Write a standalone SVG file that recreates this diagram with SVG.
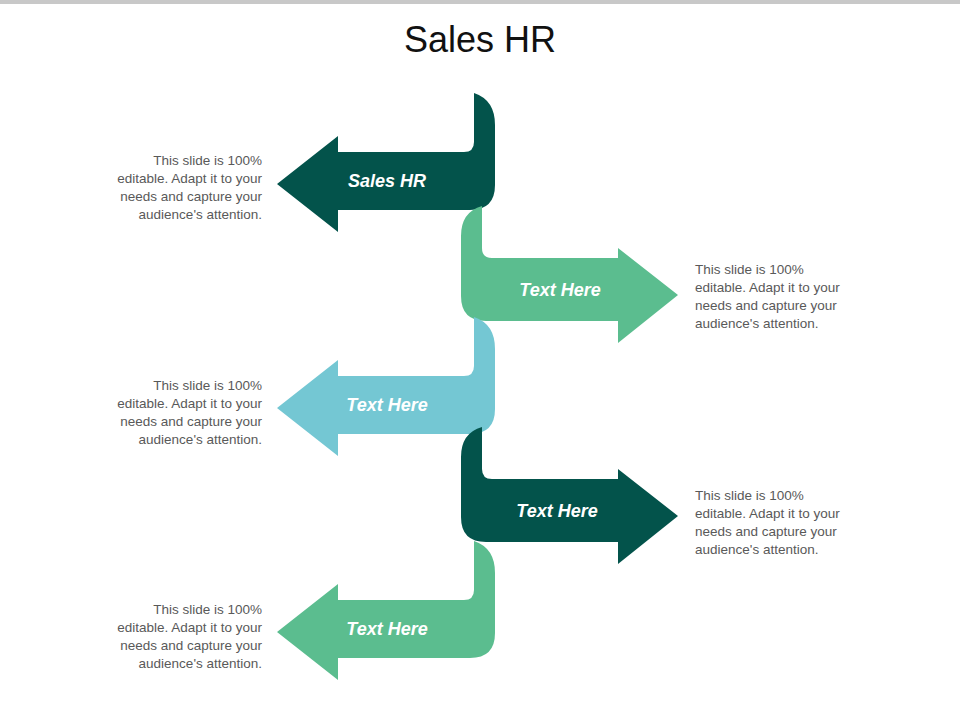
<svg xmlns="http://www.w3.org/2000/svg" width="960" height="720" viewBox="0 0 960 720">
<style>
.lbl{font-family:"Liberation Sans",Arial,sans-serif;font-size:18px;font-weight:bold;font-style:italic;fill:#fff;text-anchor:middle}
.d{font-family:"Liberation Sans",Arial,sans-serif;font-size:13.5px;fill:#595959}
.l{text-anchor:end}
</style>
<defs>
<path id="la" d="M277,184 L338,136 L338,152 L464,152 Q474,152 474,142 L474,93 Q495,100 495,125 L495,185 Q495,210 470,210 L338,210 L338,232 Z"/>
<path id="ra" d="M678,295 L618,343 L618,321 L486,321 Q461,321 461,296 L461,236 Q461,212 482,206 L482,248 Q482,258 492,258 L618,258 L618,248 Z"/>
</defs>
<rect x="0" y="0" width="960" height="4" fill="#C8C8C8"/>
<text x="480" y="52" font-family="Liberation Sans,Arial,sans-serif" font-size="36" text-anchor="middle" fill="#111">Sales HR</text>
<g id="n1"><use href="#la" fill="#03534B"/><text class="lbl" x="387" y="187">Sales HR</text></g>
<g id="n2"><use href="#ra" fill="#5BBD8F"/><text class="lbl" x="560" y="296">Text Here</text></g>
<g id="n3"><use href="#la" fill="#74C7D3" transform="translate(0,224)"/><text class="lbl" x="387" y="411">Text Here</text></g>
<g id="n4"><use href="#ra" fill="#03534B" transform="translate(0,221)"/><text class="lbl" x="557" y="517">Text Here</text></g>
<g id="n5"><use href="#la" fill="#5BBD8F" transform="translate(0,448)"/><text class="lbl" x="387" y="635">Text Here</text></g>
<g id="connectors"/>
<g id="t1" class="d"><text class="d l" x="262" y="165">This slide is 100%</text><text class="d l" x="262" y="183">editable. Adapt it to your</text><text class="d l" x="262" y="201">needs and capture your</text><text class="d l" x="262" y="219">audience's attention.</text></g>
<g id="t2"><text class="d" x="695" y="274">This slide is 100%</text><text class="d" x="695" y="292">editable. Adapt it to your</text><text class="d" x="695" y="310">needs and capture your</text><text class="d" x="695" y="328">audience's attention.</text></g>
<g id="t3"><text class="d l" x="262" y="390">This slide is 100%</text><text class="d l" x="262" y="408">editable. Adapt it to your</text><text class="d l" x="262" y="426">needs and capture your</text><text class="d l" x="262" y="444">audience's attention.</text></g>
<g id="t4"><text class="d" x="695" y="500">This slide is 100%</text><text class="d" x="695" y="518">editable. Adapt it to your</text><text class="d" x="695" y="536">needs and capture your</text><text class="d" x="695" y="554">audience's attention.</text></g>
<g id="t5"><text class="d l" x="262" y="614">This slide is 100%</text><text class="d l" x="262" y="632">editable. Adapt it to your</text><text class="d l" x="262" y="650">needs and capture your</text><text class="d l" x="262" y="668">audience's attention.</text></g>
</svg>
